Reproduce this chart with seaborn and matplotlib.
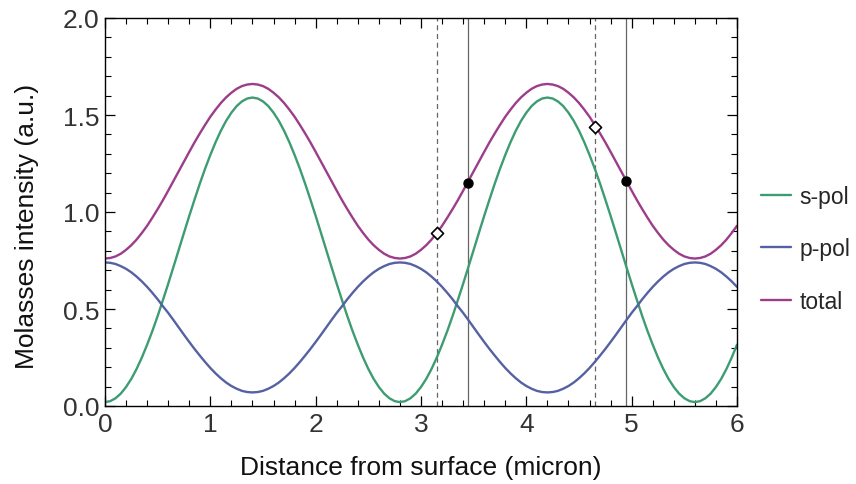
import numpy as np
import pandas as pd
import seaborn as sns
import matplotlib.pyplot as plt
from matplotlib.ticker import MultipleLocator

x_vals = [round(0.05 * i, 2) for i in range(121)]

s_pol = [0.02, 0.025, 0.04, 0.064, 0.098, 0.140, 0.191, 0.250, 0.316, 0.387, 0.464, 0.546, 0.630, 0.717, 0.805,
         0.893, 0.980, 1.064, 1.146, 1.223, 1.294, 1.360, 1.419, 1.470, 1.512, 1.546, 1.570, 1.585, 1.59,
         1.585, 1.570, 1.546, 1.512, 1.470, 1.419, 1.360, 1.294, 1.223, 1.146, 1.064, 0.980, 0.893, 0.805,
         0.717, 0.630, 0.546, 0.464, 0.387, 0.316, 0.250, 0.191, 0.140, 0.098, 0.064, 0.04, 0.025, 0.02,
         0.025, 0.04, 0.064, 0.098, 0.140, 0.191, 0.250, 0.316, 0.387, 0.464, 0.546, 0.630, 0.717, 0.805,
         0.893, 0.980, 1.064, 1.146, 1.223, 1.294, 1.360, 1.419, 1.470, 1.512, 1.546, 1.570, 1.585, 1.59,
         1.585, 1.570, 1.546, 1.512, 1.470, 1.419, 1.360, 1.294, 1.223, 1.146, 1.064, 0.980, 0.893, 0.805,
         0.717, 0.630, 0.546, 0.464, 0.387, 0.316, 0.250, 0.191, 0.140, 0.098, 0.064, 0.04, 0.025, 0.02,
         0.025, 0.04, 0.064, 0.098, 0.140, 0.191, 0.250, 0.316]
p_pol = [0.74, 0.738, 0.732, 0.721, 0.707, 0.689, 0.667, 0.642, 0.614, 0.583, 0.550, 0.514, 0.480, 0.443, 0.405,
         0.367, 0.330, 0.294, 0.260, 0.227, 0.196, 0.168, 0.143, 0.121, 0.103, 0.089, 0.078, 0.072, 0.07,
         0.072, 0.078, 0.089, 0.103, 0.121, 0.143, 0.168, 0.196, 0.227, 0.260, 0.294, 0.330, 0.367, 0.405,
         0.443, 0.480, 0.514, 0.550, 0.583, 0.614, 0.642, 0.667, 0.689, 0.707, 0.721, 0.732, 0.738, 0.74,
         0.738, 0.732, 0.721, 0.707, 0.689, 0.667, 0.642, 0.614, 0.583, 0.550, 0.514, 0.480, 0.443, 0.405,
         0.367, 0.330, 0.294, 0.260, 0.227, 0.196, 0.168, 0.143, 0.121, 0.103, 0.089, 0.078, 0.072, 0.07,
         0.072, 0.078, 0.089, 0.103, 0.121, 0.143, 0.168, 0.196, 0.227, 0.260, 0.294, 0.330, 0.367, 0.405,
         0.443, 0.480, 0.514, 0.550, 0.583, 0.614, 0.642, 0.667, 0.689, 0.707, 0.721, 0.732, 0.738, 0.74,
         0.738, 0.732, 0.721, 0.707, 0.689, 0.667, 0.642, 0.614]
total = [0.76, 0.763, 0.771, 0.785, 0.805, 0.829, 0.858, 0.892, 0.929, 0.971, 1.015, 1.061, 1.110, 1.160, 1.210,
         1.260, 1.310, 1.359, 1.405, 1.449, 1.491, 1.528, 1.562, 1.591, 1.615, 1.635, 1.649, 1.657, 1.66,
         1.657, 1.649, 1.635, 1.615, 1.591, 1.562, 1.528, 1.491, 1.449, 1.405, 1.359, 1.310, 1.260, 1.210,
         1.160, 1.110, 1.061, 1.015, 0.971, 0.929, 0.892, 0.858, 0.829, 0.805, 0.785, 0.771, 0.763, 0.76,
         0.763, 0.771, 0.785, 0.805, 0.829, 0.858, 0.892, 0.929, 0.971, 1.015, 1.061, 1.110, 1.160, 1.210,
         1.260, 1.310, 1.359, 1.405, 1.449, 1.491, 1.528, 1.562, 1.591, 1.615, 1.635, 1.649, 1.657, 1.66,
         1.657, 1.649, 1.635, 1.615, 1.591, 1.562, 1.528, 1.491, 1.449, 1.405, 1.359, 1.310, 1.260, 1.210,
         1.160, 1.110, 1.061, 1.015, 0.971, 0.929, 0.892, 0.858, 0.829, 0.805, 0.785, 0.771, 0.763, 0.76,
         0.763, 0.771, 0.785, 0.805, 0.829, 0.858, 0.892, 0.929]

dashed_x = [3.15, 4.65]
solid_x = [3.45, 4.95]
open_pts_x = [3.15, 4.65]
open_pts_y = [0.89, 1.44]
filled_pts_x = [3.45, 4.95]
filled_pts_y = [1.15, 1.16]

series_names = ["s-pol", "p-pol", "total"]
colors = ["#3d9c72", "#5561a3", "#9c3d8b"]

n = len(x_vals)
df = pd.DataFrame({
    "x": x_vals * 3,
    "y": s_pol + p_pol + total,
    "series": ["s-pol"] * n + ["p-pol"] * n + ["total"] * n,
})

sns.set_theme(style="white")
plt.rcParams["font.family"] = ["Liberation Sans", "DejaVu Sans"]

fig = plt.figure(figsize=(8.56, 4.85), dpi=100)
ax = fig.add_axes([105 / 856, 1 - 407 / 485, (737 - 105) / 856, (407 - 19) / 485])

sns.lineplot(data=df, x="x", y="y", hue="series", hue_order=series_names,
             palette=colors, linewidth=1.7, ax=ax, legend=True)
for ln in ax.get_lines():
    ln.set_solid_joinstyle("round")
    ln.set_solid_capstyle("round")

for xv in dashed_x:
    ax.axvline(xv, color="#666666", lw=0.9, ls=(0, (4, 3)), zorder=1)
for xv in solid_x:
    ax.axvline(xv, color="#666666", lw=0.9, zorder=1)

ax.scatter(open_pts_x, open_pts_y, marker="D", s=38, facecolor="white",
           edgecolor="black", linewidth=1.2, zorder=5)
ax.scatter(filled_pts_x, filled_pts_y, marker="o", s=42, color="black", zorder=5)

ax.set_xlim(0, 6)
ax.set_ylim(0, 2)
ax.xaxis.set_major_locator(MultipleLocator(1))
ax.xaxis.set_minor_locator(MultipleLocator(0.2))
ax.yaxis.set_major_locator(MultipleLocator(0.5))
ax.yaxis.set_minor_locator(MultipleLocator(0.1))
ax.xaxis.set_major_formatter(plt.FuncFormatter(lambda v, p: f"{int(round(v))}"))
ax.yaxis.set_major_formatter(plt.FuncFormatter(lambda v, p: f"{v:.1f}"))

ax.tick_params(which="both", direction="in", top=True, right=True, bottom=True, left=True,
               color="black", labelsize=19, labelcolor="#333333")
ax.tick_params(which="major", length=7, width=0.9, pad=4)
ax.tick_params(which="minor", length=4, width=0.8)
for sp in ax.spines.values():
    sp.set_color("black")
    sp.set_linewidth(1.0)

ax.set_xlabel("Distance from surface (micron)", fontsize=19, color="#111111", labelpad=14)
ax.set_ylabel("Molasses intensity (a.u.)", fontsize=19, color="#111111")
ax.yaxis.set_label_coords(-0.105, 0.465)

handles, labels = ax.get_legend_handles_labels()
ax.legend(handles, labels, loc="center left", bbox_to_anchor=(1.005, 0.405), frameon=False,
          fontsize=16.5, handlelength=1.3, labelspacing=1.3, handletextpad=0.4)

fig.savefig("out.png", dpi=100)
